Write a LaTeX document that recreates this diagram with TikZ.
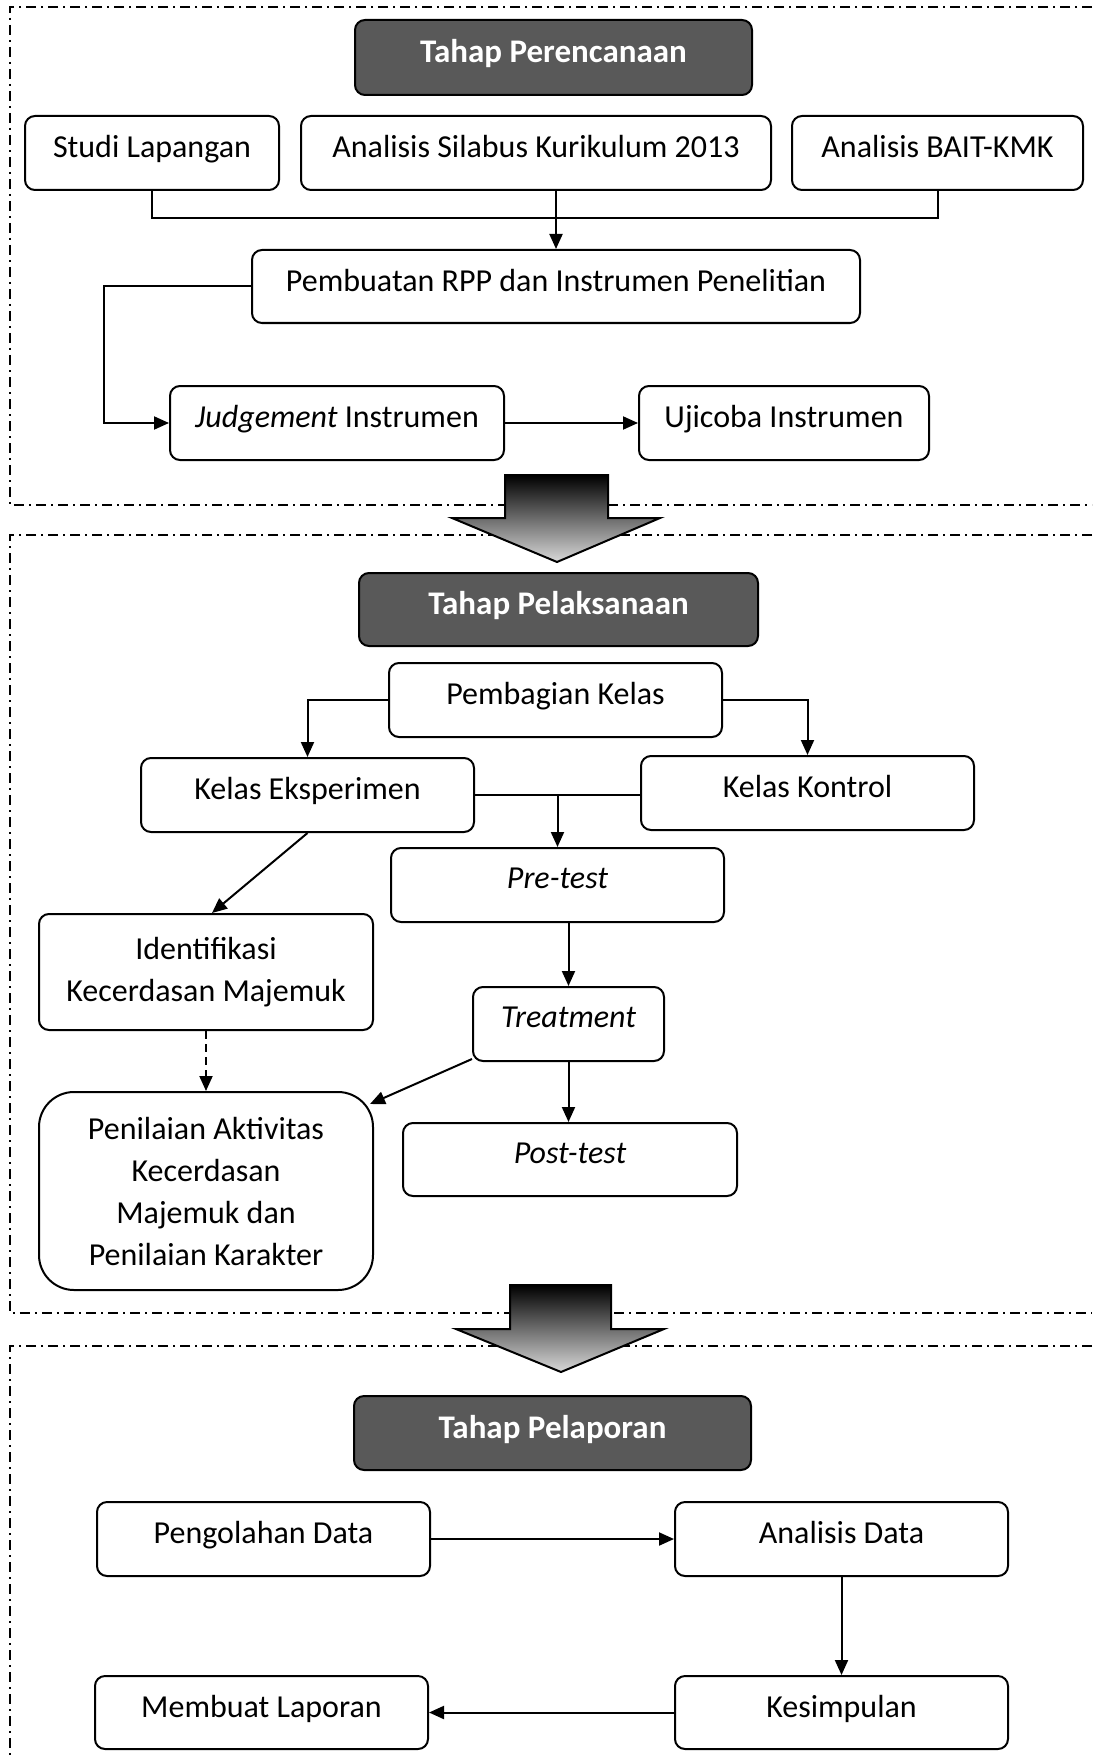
\documentclass[tikz,border=0pt]{standalone}
\usepackage{fontspec}
\setmainfont{Carlito}
\usetikzlibrary{arrows.meta,calc}
\tikzset{>={Triangle[length=15pt,width=13pt]},
  kotak/.style={draw,line width=2pt,rounded corners=10pt,align=center,inner sep=0pt,
    font=\fontsize{32}{42}\selectfont},
  satu/.style={text depth=13pt},
  judul/.style={kotak,satu,fill=black!65,text=white,font=\fontsize{33}{42}\selectfont\bfseries},
  batas/.style={line width=2pt,dash pattern=on 10pt off 5pt on 2pt off 5pt},
  garis/.style={line width=2pt},
  putus/.style={dash pattern=on 8pt off 5pt},
  panahbesar/.style={draw,line width=2pt,top color=black,bottom color=black!15}}

\begin{document}
\begin{tikzpicture}[x=1pt,y=-1pt]
\useasboundingbox (0,0) rectangle (1092,1760);
% batas tiap tahap
\draw[batas] (1092,7) -- (10,7) -- (10,505) -- (1092,505);
\draw[batas] (1092,535) -- (10,535) -- (10,1313) -- (1092,1313);
\draw[batas] (1092,1346) -- (10,1346) -- (10,1760);
% panah besar antar tahap
\shadedraw[panahbesar] (505,475) -- (608,475) -- (608,518) -- (660,518) -- (557,562)
  -- (452,518) -- (505,518) -- cycle;
\shadedraw[panahbesar] (510,1285) -- (611,1285) -- (611,1329) -- (664,1329) -- (561,1372)
  -- (456,1329) -- (510,1329) -- cycle;

% Tahap Perencanaan
\node[judul,minimum width=397pt,minimum height=75pt] (judul1) at (553.5,57.5) {Tahap Perencanaan};
\node[kotak,satu,minimum width=254pt,minimum height=74pt] (studi) at (152,153) {Studi Lapangan};
\node[kotak,satu,minimum width=470pt,minimum height=74pt] (silabus) at (536,153) {Analisis Silabus Kurikulum 2013};
\node[kotak,satu,minimum width=291pt,minimum height=74pt] (bait) at (937.5,153) {Analisis BAIT-KMK};
\node[kotak,satu,minimum width=608pt,minimum height=73pt] (rpp) at (556,286.5) {Pembuatan RPP dan Instrumen Penelitian};
\node[kotak,satu,minimum width=334pt,minimum height=74pt] (judge) at (337,423) {\textit{Judgement} Instrumen};
\node[kotak,satu,minimum width=290pt,minimum height=74pt] (uji) at (784,423) {Ujicoba Instrumen};
\draw[garis] (studi.south) |- (bait.south |- 0,218) -- (bait.south);
\draw[garis,->] (rpp.north |- silabus.south) -- (rpp.north);
\draw[garis,->] (rpp.west) -- ++(-147,0) |- (judge.west);
\draw[garis,->] (judge) -- (uji);

% Tahap Pelaksanaan
\node[judul,minimum width=399pt,minimum height=73pt] (judul2) at (558.5,609.5) {Tahap Pelaksanaan};
\node[kotak,satu,minimum width=333pt,minimum height=74pt] (bagi) at (555.5,700) {Pembagian Kelas};
\node[kotak,satu,minimum width=333pt,minimum height=74pt] (eksp) at (307.5,795) {Kelas Eksperimen};
\node[kotak,satu,minimum width=333pt,minimum height=74pt] (kontrol) at (807.5,793) {Kelas Kontrol};
\node[kotak,satu,minimum width=333pt,minimum height=74pt] (pre) at (557.5,885) {\textit{Pre-test}};
\node[kotak,minimum width=334pt,minimum height=116pt] (ident) at (206,972) {Identifikasi\\Kecerdasan Majemuk};
\node[kotak,satu,minimum width=191pt,minimum height=74pt] (treat) at (568.5,1024) {\textit{Treatment}};
\node[kotak,rounded corners=35pt,minimum width=334pt,minimum height=198pt] (nilai) at (206,1191)
  {Penilaian Aktivitas\\Kecerdasan\\Majemuk dan\\Penilaian Karakter};
\node[kotak,satu,minimum width=334pt,minimum height=73pt] (post) at (570,1159.5) {\textit{Post-test}};
\coordinate (tengah) at (pre.north |- eksp.east);
\draw[garis,->] (bagi.west) -| (eksp.north);
\draw[garis,->] (bagi.east) -| (kontrol.north);
\draw[garis] (eksp.east) -- (eksp.east -| kontrol.west);
\draw[garis,->] (tengah) -- (pre.north);
\draw[garis,->] (eksp.south) -- ([xshift=6pt]ident.north);
\draw[garis,->,putus] (ident.south) -- (nilai.north);
\draw[garis,->] (pre.south -| treat.north) -- (treat.north);
\draw[garis,->] (treat.south) -- (treat.south |- post.north);
\draw[garis,->] ([yshift=3pt]treat.south west) -- ([shift={(-4pt,-13pt)}]nilai.north east);

% Tahap Pelaporan
\node[judul,minimum width=397pt,minimum height=74pt] (judul3) at (552.5,1433) {Tahap Pelaporan};
\node[kotak,satu,minimum width=333pt,minimum height=74pt] (olah) at (263.5,1539) {Pengolahan Data};
\node[kotak,satu,minimum width=333pt,minimum height=74pt] (anal) at (841.5,1539) {Analisis Data};
\node[kotak,satu,minimum width=333pt,minimum height=73pt] (lapor) at (261.5,1712.5) {Membuat Laporan};
\node[kotak,satu,minimum width=333pt,minimum height=73pt] (simpul) at (841.5,1712.5) {Kesimpulan};
\draw[garis,->] (olah) -- (anal);
\draw[garis,->] (anal) -- (simpul);
\draw[garis,->] (simpul) -- (lapor);
\end{tikzpicture}
\end{document}
